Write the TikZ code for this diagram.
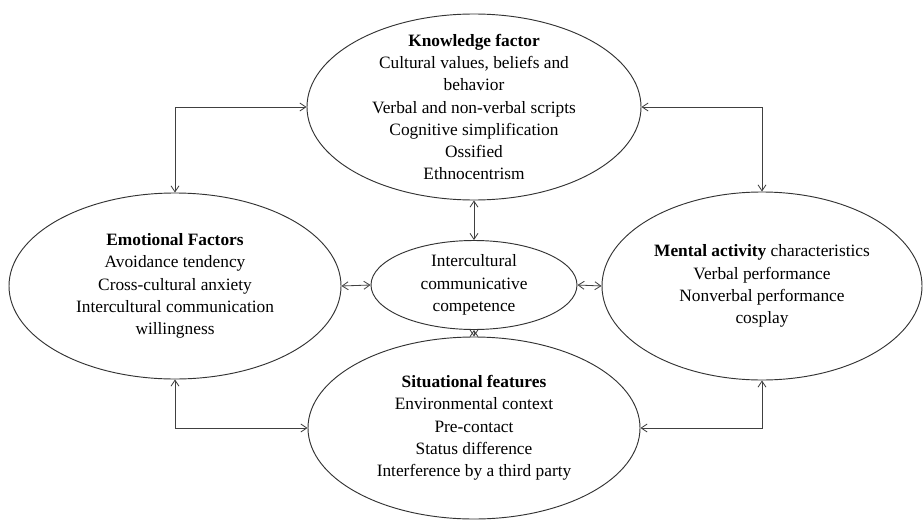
\documentclass[tikz,border=0pt]{standalone}
\usepackage{fontspec}
\setmainfont{Liberation Serif}
\usetikzlibrary{shapes.geometric}
\usetikzlibrary{arrows.meta}

\begin{document}
\begin{tikzpicture}[line width=.8pt,
    factor/.style={draw=black!80, ellipse, inner sep=0pt},
    words/.style={align=center, font=\fontsize{14.8}{19}\selectfont},
    link/.style={black!75, line width=.7pt, {Straight Barb[length=1.8mm,width=2.4mm]}-{Straight Barb[length=1.8mm,width=2.4mm]}}]
  \useasboundingbox (0,0) rectangle (27.69,15.63);
  \node[factor, minimum width=10.02cm, minimum height=5.58cm,
    label={[words]center:{\textbf{Knowledge factor}\\Cultural values, beliefs and\\behavior\\Verbal and non-verbal scripts\\Cognitive simplification\\Ossified\\Ethnocentrism}}]
    (know) at (14.22,12.42) {};
  \node[factor, minimum width=9.96cm, minimum height=5.58cm,
    label={[words]center:{\textbf{Emotional Factors}\\Avoidance tendency\\Cross-cultural anxiety\\Intercultural communication\\willingness}}]
    (emo) at (5.25,7.05) {};
  \node[factor, minimum width=9.6cm, minimum height=5.64cm,
    label={[words]center:{\textbf{Mental activity} characteristics\\Verbal performance\\Nonverbal performance\\cosplay}}]
    (ment) at (22.86,7.05) {};
  \node[factor, minimum width=6.18cm, minimum height=2.67cm,
    label={[words]center:{Intercultural\\communicative\\competence}}]
    (icc) at (14.22,7.08) {};
  \node[factor, minimum width=9.96cm, minimum height=5.46cm,
    label={[words]center:{\textbf{Situational features}\\Environmental context\\Pre-contact\\Status difference\\Interference by a third party}}]
    (sit) at (14.22,2.79) {};
  \draw[link] (emo.north) |- (know.west);
  \draw[link] (know.east) -| (ment.north);
  \draw[link] (emo.south) |- (sit.west);
  \draw[link] (ment.south) |- (sit.east);
  \draw[link] (know.south) -- (icc.north);
  \draw[link] (icc.west) -- (emo.east);
  \draw[link] (icc.east) -- (ment.west);
  \draw[link] (icc.south) -- (sit.north);
\end{tikzpicture}
\end{document}
